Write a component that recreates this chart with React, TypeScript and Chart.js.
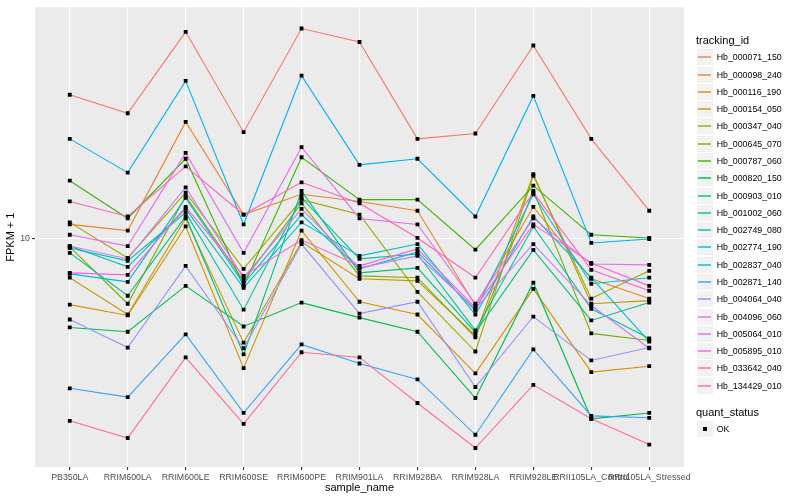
import React, { useEffect, useRef } from "react";
import { Chart, registerables } from "chart.js";

Chart.register(...registerables);

const sampleNames = [
  "PB350LA", "RRIM600LA", "RRIM600LE", "RRIM600SE", "RRIM600PE", "RRIM901LA",
  "RRIM928BA", "RRIM928LA", "RRIM928LE", "RRII105LA_Control", "RRII105LA_Stressed",
];

const trackingIds = [
  "Hb_000071_150", "Hb_000098_240", "Hb_000116_190", "Hb_000154_050", "Hb_000347_040",
  "Hb_000645_070", "Hb_000787_060", "Hb_000820_150", "Hb_000903_010", "Hb_001002_060",
  "Hb_002749_080", "Hb_002774_190", "Hb_002837_040", "Hb_002871_140", "Hb_004064_040",
  "Hb_004096_060", "Hb_005064_010", "Hb_005895_010", "Hb_033642_040", "Hb_134429_010",
];

const seriesColors = [
  "#F8766D", "#EA8331", "#D89000", "#C09B00", "#A3A500", "#7CAE00", "#39B600", "#00BB4E",
  "#00BF7D", "#00C1A3", "#00BFC4", "#00BAE0", "#00B0F6", "#35A2FF", "#9590FF", "#C77CFF",
  "#E76BF3", "#FA62DB", "#FF62BC", "#FF6C91",
];

const hb_000071_150 = [19.5, 17.9, 26.1, 16.4, 26.5, 24.9, 15.9, 16.3, 24.5, 15.9, 11.4];
const hb_000098_240 = [10.7, 10.4, 17.2, 11.2, 12.3, 11.9, 11.4, 7.35, 11.6, 8.32, 7.59];
const hb_000116_190 = [7.38, 7.02, 10.6, 5.5, 10.4, 7.48, 7.05, 5.37, 7.94, 5.4, 5.55];
const hb_000154_050 = [8.36, 7.05, 11.0, 6.19, 9.86, 8.32, 8.24, 6.4, 13.5, 7.41, 7.52];
const hb_000347_040 = [10.8, 9.16, 12.4, 8.71, 12.0, 11.2, 7.83, 5.94, 13.4, 7.59, 8.63];
const hb_000645_070 = [9.64, 7.41, 12.2, 8.24, 11.8, 8.43, 8.36, 6.34, 12.5, 6.46, 6.25];
const hb_000787_060 = [13.1, 11.0, 14.5, 8.05, 14.6, 12.0, 12.0, 9.52, 12.8, 10.2, 10.05];
const hb_000820_150 = [6.64, 6.51, 8.05, 6.67, 7.45, 6.95, 6.51, 4.79, 8.17, 4.35, 4.47];
const hb_000903_010 = [9.38, 7.69, 11.1, 5.86, 12.5, 8.55, 8.75, 6.49, 9.51, 6.86, 7.45];
const hb_001002_060 = [9.59, 9.04, 11.3, 7.21, 12.1, 9.12, 9.33, 6.55, 10.6, 7.24, 6.31];
const hb_002749_080 = [9.68, 8.79, 11.5, 7.98, 10.8, 9.25, 9.77, 7.05, 11.1, 8.36, 6.22];
const hb_002774_190 = [8.51, 8.2, 12.1, 8.13, 11.2, 8.71, 9.42, 7.18, 12.3, 8.13, 8.36];
const hb_002837_040 = [15.9, 13.6, 20.8, 10.7, 21.3, 14.1, 14.5, 11.1, 19.4, 9.82, 10.0];
const hb_002871_140 = [5.01, 4.81, 6.43, 4.47, 6.14, 5.62, 5.22, 4.04, 6.0, 4.41, 4.37];
const hb_004064_040 = [6.89, 6.05, 8.83, 6.03, 9.77, 7.08, 7.48, 5.04, 6.98, 5.7, 6.05];
const hb_004096_060 = [9.68, 9.12, 12.7, 8.36, 11.5, 8.75, 9.25, 7.24, 9.77, 7.35, 6.03];
const hb_005064_010 = [10.2, 9.68, 14.9, 9.38, 15.3, 11.0, 10.7, 7.41, 11.0, 8.91, 8.87];
const hb_005895_010 = [8.55, 8.47, 11.6, 8.43, 9.95, 8.83, 9.55, 7.28, 10.7, 8.95, 8.05];
const hb_033642_040 = [11.9, 11.1, 14.0, 11.2, 13.0, 11.8, 10.05, 8.36, 12.4, 8.67, 7.87];
const hb_134429_010 = [4.31, 3.98, 5.78, 4.25, 5.92, 5.78, 4.68, 3.8, 5.09, 4.35, 3.86];

const fpkmSeries = [
  hb_000071_150, hb_000098_240, hb_000116_190, hb_000154_050, hb_000347_040,
  hb_000645_070, hb_000787_060, hb_000820_150, hb_000903_010, hb_001002_060,
  hb_002749_080, hb_002774_190, hb_002837_040, hb_002871_140, hb_004064_040,
  hb_004096_060, hb_005064_010, hb_005895_010, hb_033642_040, hb_134429_010,
];

const yTickValues = [10];
const yMin = 3.48;
const yMax = 29.24;
const quantStatus = ["OK"];

const FONT = "'Liberation Sans', Arial, Helvetica, sans-serif";

export default function App() {
  const canvasRef = useRef<HTMLCanvasElement | null>(null);

  useEffect(() => {
    const canvas = canvasRef.current;
    if (!canvas) return;
    const toPoints = (vals: number[]) => vals.map((v, i) => ({ x: i + 1, y: v }));

    const lineSets = fpkmSeries.map((vals, i) => ({
      label: trackingIds[i],
      data: toPoints(vals),
      borderColor: seriesColors[i],
      backgroundColor: seriesColors[i],
      borderWidth: 1.1,
      pointRadius: 0,
      fill: false,
      tension: 0,
      order: 100 - i,
    }));
    const pointSets = fpkmSeries.map((vals, i) => ({
      label: trackingIds[i] + "_pts",
      data: toPoints(vals),
      showLine: false,
      pointStyle: "rect" as const,
      pointRadius: 2.7,
      pointBackgroundColor: "#000000",
      pointBorderColor: "#000000",
      pointBorderWidth: 0,
      order: 20 - i,
    }));

    const panelBg = {
      id: "panelBg",
      beforeDraw(chart: any) {
        const { ctx, chartArea } = chart;
        ctx.save();
        ctx.fillStyle = "#EBEBEB";
        ctx.fillRect(chartArea.left, chartArea.top, chartArea.right - chartArea.left, chartArea.bottom - chartArea.top);
        ctx.restore();
      },
    };

    const chart = new Chart(canvas, {
      type: "line",
      data: { datasets: [...lineSets, ...pointSets] as any },
      plugins: [panelBg],
      options: {
        responsive: false,
        animation: false,
        events: [],
        layout: { padding: { left: 0, right: 116, top: 5, bottom: 0 } },
        plugins: { legend: { display: false }, tooltip: { enabled: false } },
        scales: {
          x: {
            type: "linear",
            min: 0.4,
            max: 11.6,
            afterBuildTicks: (scale: any) => {
              scale.ticks = sampleNames.map((_, i) => ({ value: i + 1 }));
            },
            afterFit: (scale: any) => {
              scale.height = 33;
            },
            border: { display: false },
            grid: { color: "#FFFFFF", lineWidth: 1.1, tickColor: "#333333", tickLength: 3 },
            ticks: {
              autoSkip: false,
              maxRotation: 0,
              minRotation: 0,
              padding: 2,
              color: "#4D4D4D",
              font: { family: FONT, size: 8.8 },
              callback: (v: any) => sampleNames[Math.round(Number(v)) - 1] ?? "",
            },
            title: {
              display: true,
              text: "sample_name",
              color: "#000000",
              font: { family: FONT, size: 11 },
              padding: { top: 0, bottom: 5 },
            },
          },
          y: {
            type: "logarithmic",
            min: yMin,
            max: yMax,
            afterBuildTicks: (scale: any) => {
              scale.ticks = yTickValues.map((v) => ({ value: v }));
            },
            afterFit: (scale: any) => {
              scale.width = 35;
            },
            border: { display: false },
            grid: { color: "#FFFFFF", lineWidth: 1.1, tickColor: "#333333", tickLength: 3 },
            ticks: {
              padding: 2,
              color: "#4D4D4D",
              font: { family: FONT, size: 8.8 },
              callback: (v: any) => String(v),
            },
            title: {
              display: true,
              text: "FPKM + 1",
              color: "#000000",
              font: { family: FONT, size: 11 },
              padding: { top: 4, bottom: 0 },
            },
          },
        },
      } as any,
    });
    return () => chart.destroy();
  }, []);

  const itemStep = 17.28;
  const firstCenter = 57.3;

  return (
    <div style={{ position: "fixed", left: 0, top: 0, width: 800, height: 500, background: "#FFFFFF", fontFamily: FONT }}>
      <canvas ref={canvasRef} width={800} height={500} style={{ position: "absolute", left: 0, top: 0, width: 800, height: 500 }} />
      <div style={{ position: "absolute", left: 696, top: 40 - 7, fontSize: 11, lineHeight: "14px", color: "#000" }}>tracking_id</div>
      {trackingIds.map((id, i) => {
        const c = firstCenter + i * itemStep;
        return (
          <React.Fragment key={id}>
            <div style={{ position: "absolute", left: 697, top: Math.round(c - 8), width: 16, height: 16, background: "#F2F2F2" }} />
            <div style={{ position: "absolute", left: 698, top: Math.round(c) - 1, width: 13, height: 2, background: seriesColors[i], opacity: 0.7 }} />
            <div style={{ position: "absolute", left: 716.7, top: c - 6, fontSize: 8.8, lineHeight: "12px", color: "#000", whiteSpace: "nowrap" }}>{id}</div>
          </React.Fragment>
        );
      })}
      <div style={{ position: "absolute", left: 696, top: 412.3 - 7, fontSize: 11, lineHeight: "14px", color: "#000" }}>quant_status</div>
      {quantStatus.map((s, i) => {
        const c = 429 + i * itemStep;
        return (
          <React.Fragment key={s}>
            <div style={{ position: "absolute", left: 697, top: Math.round(c - 8), width: 16, height: 16, background: "#F2F2F2" }} />
            <div style={{ position: "absolute", left: 703, top: Math.round(c) - 2, width: 4, height: 4, background: "#000" }} />
            <div style={{ position: "absolute", left: 716.7, top: c - 6, fontSize: 8.8, lineHeight: "12px", color: "#000" }}>{s}</div>
          </React.Fragment>
        );
      })}
    </div>
  );
}
